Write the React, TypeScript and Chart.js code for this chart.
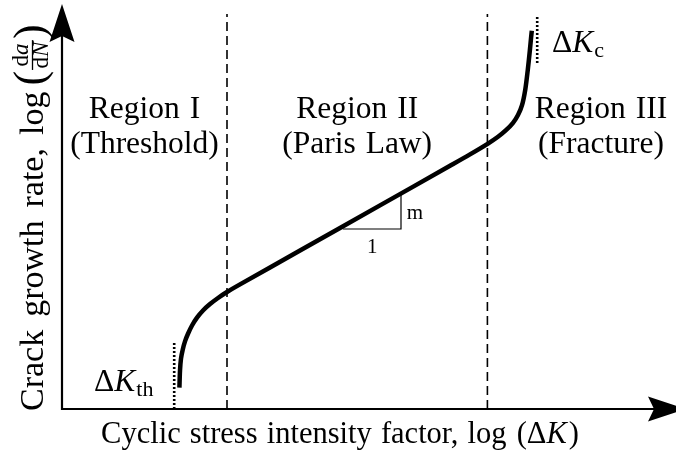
import { useEffect, useRef } from "react";
import { Chart, registerables } from "chart.js";

Chart.register(...registerables);

// Schematic fatigue crack growth curve (log-log axes, arbitrary units)
const logDeltaK = [
  1.957, 1.967, 1.983, 2.012, 2.05, 2.1, 2.167, 2.25, 2.35, 2.467, 2.6, 2.75, 2.967,
  3.967, 5.3, 6.467,
  6.8, 7.1, 7.267, 7.4, 7.517, 7.6, 7.667, 7.722, 7.763, 7.797, 7.817, 7.83,
];
const logGrowthRate = [
  0.428, 0.774, 1.006, 1.186, 1.352, 1.505, 1.67, 1.826, 1.97, 2.098, 2.22, 2.34, 2.492,
  3.17, 4.072, 4.864,
  5.092, 5.308, 5.444, 5.576, 5.724, 5.88, 6.076, 6.394, 6.782, 7.164, 7.418, 7.566,
];

// Region boundaries (dashed) and their labels
const regionBoundaries = [2.75, 7.09];
const regionTop = 7.9;
const regionTitles = ["Region I", "Region II", "Region III"];
const regionSubtitles = ["(Threshold)", "(Paris Law)", "(Fracture)"];

// Threshold and critical stress intensity markers (dotted)
const thresholdK = 1.87;
const thresholdSpan = [0, 1.36];
const criticalK = 7.92;
const criticalSpan = [6.92, 7.88];

// Slope triangle under the Paris-law segment
const slopeRun = [4.68, 5.65];
const slopeRise = [3.6, 4.29];

const X_MAX = 10;
const Y_MAX = 8;

const SERIF = '"Liberation Serif", "DejaVu Serif", serif';
const font = (size: number, italic = false) => `${italic ? "italic " : ""}${size}px ${SERIF}`;

type Run = { text: string; size: number; italic?: boolean; dy?: number; gap?: number };

function runsWidth(ctx: CanvasRenderingContext2D, runs: Run[]) {
  let w = 0;
  for (const r of runs) {
    ctx.font = font(r.size, r.italic);
    w += ctx.measureText(r.text).width + (r.gap ?? 0);
  }
  return w;
}

function drawRuns(ctx: CanvasRenderingContext2D, runs: Run[], x: number, y: number) {
  let cx = x;
  for (const r of runs) {
    ctx.font = font(r.size, r.italic);
    ctx.fillText(r.text, cx, y + (r.dy ?? 0));
    cx += ctx.measureText(r.text).width + (r.gap ?? 0);
  }
  return cx;
}

function drawRunsCentered(ctx: CanvasRenderingContext2D, runs: Run[], cx: number, y: number) {
  const w = runsWidth(ctx, runs);
  return drawRuns(ctx, runs, cx - w / 2, y);
}

function setWordSpacing(ctx: CanvasRenderingContext2D, px: number) {
  const c = ctx as unknown as { wordSpacing?: string };
  if ("wordSpacing" in ctx) c.wordSpacing = `${px}px`;
}

function arrowHead(ctx: CanvasRenderingContext2D, tipX: number, tipY: number, dirX: number, dirY: number) {
  const len = 38;
  const half = 12.5;
  const notch = 6;
  const bx = tipX - dirX * len;
  const by = tipY - dirY * len;
  const px = -dirY;
  const py = dirX;
  ctx.beginPath();
  ctx.moveTo(tipX, tipY);
  ctx.lineTo(bx + px * half, by + py * half);
  ctx.lineTo(bx + dirX * notch, by + dirY * notch);
  ctx.lineTo(bx - px * half, by - py * half);
  ctx.closePath();
  ctx.fill();
}

const LABEL = 31.5;

const annotations = {
  id: "crackAnnotations",
  afterDraw(chart: Chart) {
    const ctx = chart.ctx;
    const xs = chart.scales.x;
    const ys = chart.scales.y;
    const px = (v: number) => xs.getPixelForValue(v);
    const py = (v: number) => ys.getPixelForValue(v);
    const x0 = px(0);
    const y0 = py(0);

    ctx.save();
    ctx.fillStyle = "#000";
    ctx.strokeStyle = "#000";

    // axes with arrow heads
    ctx.lineWidth = 2.2;
    ctx.beginPath();
    ctx.moveTo(x0, y0 + 1.1);
    ctx.lineTo(x0, 30);
    ctx.moveTo(x0 - 1.1, y0);
    ctx.lineTo(660, y0);
    ctx.stroke();
    arrowHead(ctx, x0, 4, 0, -1);
    arrowHead(ctx, 686, y0, 1, 0);

    ctx.textAlign = "left";
    ctx.textBaseline = "alphabetic";

    // region labels
    const centers = [
      (x0 + px(regionBoundaries[0])) / 2,
      (px(regionBoundaries[0]) + px(regionBoundaries[1])) / 2,
      601,
    ];
    setWordSpacing(ctx, 2);
    regionTitles.forEach((t, i) => {
      drawRunsCentered(ctx, [{ text: t, size: LABEL }], centers[i], 118);
      drawRunsCentered(ctx, [{ text: regionSubtitles[i], size: LABEL }], centers[i], 153);
    });
    setWordSpacing(ctx, 0);

    // ΔK_th and ΔK_c
    drawRuns(
      ctx,
      [
        { text: "Δ", size: LABEL },
        { text: "K", size: LABEL, italic: true, gap: 1 },
        { text: "th", size: 22, dy: 5 },
      ],
      94,
      391
    );
    drawRuns(
      ctx,
      [
        { text: "Δ", size: LABEL },
        { text: "K", size: LABEL, italic: true, gap: 1 },
        { text: "c", size: 22, dy: 5 },
      ],
      552,
      52
    );

    // slope triangle labels
    ctx.textAlign = "center";
    ctx.font = font(21);
    ctx.fillText("m", px(5.88), py(3.92) + 6);
    ctx.fillText("1", px(5.17), py(3.28) + 8);
    ctx.textAlign = "left";

    // x-axis title
    setWordSpacing(ctx, 1.5);
    drawRunsCentered(
      ctx,
      [
        { text: "Cyclic stress intensity factor, log ", size: 30.5, gap: 1 },
        { text: "(Δ", size: 30.5 },
        { text: "K", size: 30.5, italic: true, gap: 2 },
        { text: ")", size: 30.5 },
      ],
      340,
      443
    );

    // y-axis title (rotated), with d a / d N fraction in large parentheses
    ctx.save();
    ctx.translate(43, 411);
    ctx.rotate(-Math.PI / 2);
    setWordSpacing(ctx, 4.5);
    let u = drawRuns(ctx, [{ text: "Crack growth rate, log", size: 34 }], 0, 0);
    setWordSpacing(ctx, 0);
    u += 6;
    ctx.font = font(44);
    ctx.fillText("(", u, 1);
    u += ctx.measureText("(").width + 1;
    const num: Run[] = [
      { text: "d", size: 23 },
      { text: "a", size: 23, italic: true },
    ];
    const den: Run[] = [
      { text: "d", size: 23 },
      { text: "N", size: 23, italic: true },
    ];
    const numW = runsWidth(ctx, num);
    const denW = runsWidth(ctx, den);
    const fracW = Math.max(numW, denW) + 3;
    ctx.lineWidth = 1.3;
    ctx.beginPath();
    ctx.moveTo(u, -10.5);
    ctx.lineTo(u + fracW, -10.5);
    ctx.stroke();
    drawRuns(ctx, num, u + (fracW - numW) / 2, -15);
    drawRuns(ctx, den, u + (fracW - denW) / 2, 5);
    u += fracW + 1;
    ctx.font = font(44);
    ctx.fillText(")", u, 1);
    ctx.restore();

    ctx.restore();
  },
};

export default function App() {
  const canvasRef = useRef<HTMLCanvasElement | null>(null);

  useEffect(() => {
    const canvas = canvasRef.current;
    if (!canvas) return;

    const curve = logDeltaK.map((x, i) => ({ x, y: logGrowthRate[i] }));
    const boundaryLines = regionBoundaries.map((x) => ({
      data: [
        { x, y: 0 },
        { x, y: regionTop },
      ],
      borderColor: "#000",
      borderWidth: 1.6,
      borderDash: [9, 5],
      showLine: true,
      pointRadius: 0,
      clip: false as const,
    }));
    const dotted = (x: number, span: number[]) => ({
      data: span.map((y) => ({ x, y })),
      borderColor: "#000",
      borderWidth: 2.6,
      borderDash: [2, 2],
      showLine: true,
      pointRadius: 0,
      clip: false as const,
    });

    const chart = new Chart(canvas, {
      type: "scatter",
      data: {
        datasets: [
          ...boundaryLines,
          dotted(thresholdK, thresholdSpan),
          dotted(criticalK, criticalSpan),
          {
            data: [
              { x: slopeRun[0], y: slopeRise[0] },
              { x: slopeRun[1], y: slopeRise[0] },
              { x: slopeRun[1], y: slopeRise[1] },
            ],
            borderColor: "#000",
            borderWidth: 1.2,
            showLine: true,
            pointRadius: 0,
            clip: false as const,
          },
          {
            data: curve,
            borderColor: "#000",
            borderWidth: 4.5,
            showLine: true,
            pointRadius: 0,
            tension: 0.3,
            borderCapStyle: "butt" as const,
            borderJoinStyle: "round" as const,
            clip: false as const,
          },
        ],
      },
      options: {
        animation: false,
        responsive: false,
        events: [],
        layout: { padding: { left: 62, top: 9, right: 14, bottom: 53 } },
        scales: {
          x: { type: "linear", min: 0, max: X_MAX, display: false },
          y: { type: "linear", min: 0, max: Y_MAX, display: false },
        },
        plugins: { legend: { display: false }, tooltip: { enabled: false } },
      },
      plugins: [annotations],
    });

    return () => chart.destroy();
  }, []);

  return (
    <div style={{ position: "fixed", left: 0, top: 0, width: 676, height: 462, background: "#fff" }}>
      <canvas ref={canvasRef} width={676} height={462} style={{ display: "block" }} />
    </div>
  );
}
